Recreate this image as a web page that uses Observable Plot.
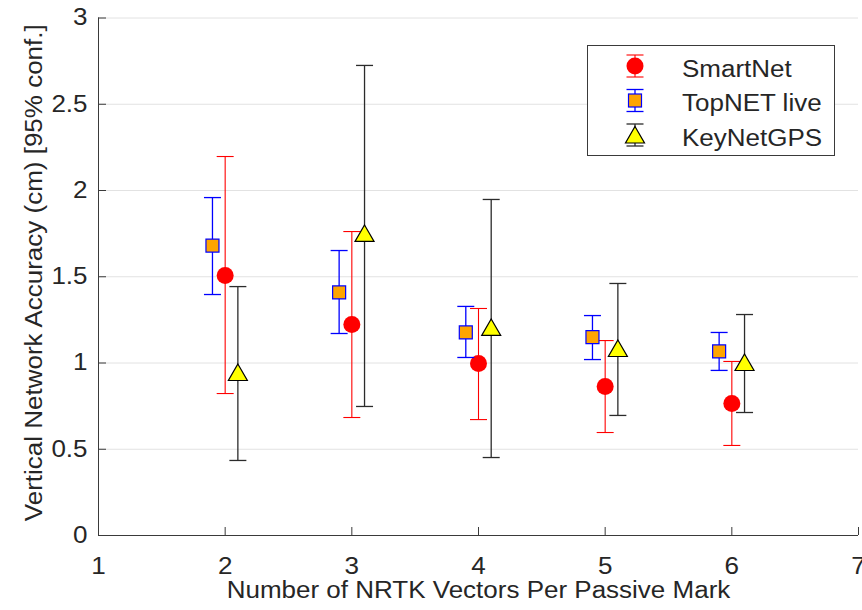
<!DOCTYPE html>
<html><head><meta charset="utf-8">
<script src="https://cdn.jsdelivr.net/npm/d3@7"></script>
<script src="https://cdn.jsdelivr.net/npm/@observablehq/plot@0.6"></script>
<style>
body{margin:0;background:#fff;}
#wrap{position:relative;width:862px;height:610px;overflow:hidden;font-family:"Liberation Sans",Arial,Helvetica,sans-serif;}
#legend{position:absolute;left:587px;top:45px;}
</style></head><body><div id="wrap"></div>
<script>
// ---- data ----
const xValues = [2, 3, 4, 5, 6];
const smartNetMean = [1.507, 1.223, 0.997, 0.864, 0.765];
const smartNetLow  = [0.823, 0.684, 0.672, 0.597, 0.522];
const smartNetHigh = [2.197, 1.762, 1.316, 1.130, 1.009];
const topNetMean = [1.681, 1.409, 1.177, 1.150, 1.067];
const topNetLow  = [1.397, 1.171, 1.032, 1.020, 0.957];
const topNetHigh = [1.959, 1.652, 1.328, 1.275, 1.177];
const keyNetMean = [0.945, 1.751, 1.206, 1.084, 1.003];
const keyNetLow  = [0.435, 0.748, 0.452, 0.696, 0.713];
const keyNetHigh = [1.443, 2.725, 1.948, 1.461, 1.281];
const seriesNames = ["SmartNet", "TopNET live", "KeyNetGPS"];
const xTicks = [1, 2, 3, 4, 5, 6, 7];
const xTickLabels = ["1", "2", "3", "4", "5", "6", "7"];
const yTicks = [0, 0.5, 1, 1.5, 2, 2.5, 3];
const yTickLabels = ["0", "0.5", "1", "1.5", "2", "2.5", "3"];
const xLabel = "Number of NRTK Vectors Per Passive Mark";
const yLabel = "Vertical Network Accuracy (cm) [95% conf.]";

// ---- layout / style ----
const W = 862, H = 610, mL = 98, mR = 4, mT = 17.5, mB = 75;
const innerW = W - mL - mR, innerH = H - mT - mB;
const axisColor = "#3a3a3a", textColor = "#262626";
const dodge = 12.7; // px offset between series

const makeTable = (mean, lo, hi) => xValues.map((x, i) => ({x, mean: mean[i], lo: lo[i], hi: hi[i]}));
const smartData = makeTable(smartNetMean, smartNetLow, smartNetHigh);
const topNetData = makeTable(topNetMean, topNetLow, topNetHigh);
const keyNetData = makeTable(keyNetMean, keyNetLow, keyNetHigh);

const capSym = {draw(ctx) { ctx.moveTo(-8.5, 0); ctx.lineTo(8.5, 0); }};
const squareSym = {draw(ctx) { ctx.rect(-6.5, -6.5, 13, 13); }};
const triSym = {draw(ctx) { ctx.moveTo(0, -8.5); ctx.lineTo(9.5, 8); ctx.lineTo(-9.5, 8); ctx.closePath(); }};

function errMarks(data, dx, stroke, sw) {
  return [
    Plot.ruleX(data, {x: "x", y1: "lo", y2: "hi", dx, stroke, strokeWidth: sw}),
    Plot.dot(data, {x: "x", y: "lo", dx, symbol: capSym, r: 5, fill: "none", stroke, strokeWidth: sw}),
    Plot.dot(data, {x: "x", y: "hi", dx, symbol: capSym, r: 5, fill: "none", stroke, strokeWidth: sw})
  ];
}

const chart = Plot.plot({
  width: W, height: H,
  marginLeft: mL, marginRight: mR, marginTop: mT, marginBottom: mB,
  style: {fontFamily: '"Liberation Sans", Arial, Helvetica, sans-serif', fontSize: "23px", color: textColor, background: "white"},
  x: {type: "linear", domain: [xTicks[0], xTicks[xTicks.length - 1]]},
  y: {type: "linear", domain: [yTicks[0], yTicks[yTicks.length - 1]]},
  marks: [
    Plot.ruleY(yTicks.slice(1), {stroke: "#e2e2e2", strokeWidth: 1}),
    Plot.ruleY(yTicks, {insetRight: innerW - 8, stroke: axisColor}),
    Plot.ruleX(xTicks, {insetTop: innerH - 8, stroke: axisColor}),
    Plot.ruleY([yTicks[0]], {stroke: axisColor}),
    Plot.ruleX([xTicks[0]], {stroke: axisColor}),
    Plot.axisX(xTicks, {tickSize: 0, tickPadding: 22, label: null, fill: textColor,
      tickFormat: d => xTickLabels[xTicks.indexOf(d)]}),
    Plot.axisY(yTicks, {tickSize: 0, tickPadding: 11, label: null, fill: textColor,
      tickFormat: d => yTickLabels[yTicks.indexOf(d)]}),
    // SmartNet
    ...errMarks(smartData, 0, "#ff0000", 1.1),
    Plot.dot(smartData, {x: "x", y: "mean", r: 8.5, fill: "#ff0000", stroke: "none"}),
    // TopNET live
    ...errMarks(topNetData, -dodge, "#0000ff", 1.3),
    Plot.dot(topNetData, {x: "x", y: "mean", dx: -dodge, symbol: squareSym, r: 5, fill: "#ffa500", stroke: "#0000ff", strokeWidth: 1.2}),
    // KeyNetGPS
    ...errMarks(keyNetData, dodge, "#2b2b2b", 1.3),
    Plot.dot(keyNetData, {x: "x", y: "mean", dx: dodge, symbol: triSym, r: 5, fill: "#ffff00", stroke: "#000000", strokeWidth: 1.2}),
    // axis titles
    Plot.text([xLabel], {text: d => d, frameAnchor: "bottom", textAnchor: "middle", dy: 46, lineAnchor: "top", fill: textColor, fontSize: 23}),
    Plot.text([yLabel], {text: d => d, frameAnchor: "left", textAnchor: "middle", dx: -64, dy: -4, rotate: -90, lineAnchor: "middle", fill: textColor, fontSize: 23})
  ]
});

const wrap = document.getElementById("wrap");
wrap.appendChild(chart);

// ---- legend ----
const legendStyles = [
  {name: seriesNames[0], stroke: "#ff0000", sw: 1.1, marker: "circle"},
  {name: seriesNames[1], stroke: "#0000ff", sw: 1.3, marker: "square"},
  {name: seriesNames[2], stroke: "#2b2b2b", sw: 1.3, marker: "triangle"}
];
const lg = d3.create("svg").attr("id", "legend").attr("width", 249).attr("height", 112)
  .style("font-family", '"Liberation Sans", Arial, Helvetica, sans-serif').style("font-size", "23px");
lg.append("rect").attr("x", 0.5).attr("y", 0.5).attr("width", 247).attr("height", 110)
  .attr("fill", "white").attr("stroke", "#3a3a3a").attr("stroke-width", 1);
const rowY = [21, 55.5, 90];
legendStyles.forEach((s, i) => {
  const g = lg.append("g").attr("transform", `translate(48,${rowY[i]})`);
  g.append("line").attr("y1", -11).attr("y2", 11).attr("stroke", s.stroke).attr("stroke-width", s.sw);
  g.append("line").attr("x1", -8.5).attr("x2", 8.5).attr("y1", -11).attr("y2", -11).attr("stroke", s.stroke).attr("stroke-width", s.sw);
  g.append("line").attr("x1", -8.5).attr("x2", 8.5).attr("y1", 11).attr("y2", 11).attr("stroke", s.stroke).attr("stroke-width", s.sw);
  if (s.marker === "circle") g.append("circle").attr("r", 8.5).attr("fill", "#ff0000");
  if (s.marker === "square") g.append("rect").attr("x", -6.5).attr("y", -6.5).attr("width", 13).attr("height", 13).attr("fill", "#ffa500").attr("stroke", "#0000ff").attr("stroke-width", 1.2);
  if (s.marker === "triangle") g.append("path").attr("d", "M0,-8.5L9.5,8L-9.5,8Z").attr("fill", "#ffff00").attr("stroke", "#000").attr("stroke-width", 1.2);
  lg.append("text").attr("x", 95).attr("y", rowY[i] + 10.5).attr("fill", textColor).text(s.name);
});
wrap.appendChild(lg.node());

// widen glyphs slightly to match the reference's wider face
wrap.querySelectorAll("text").forEach(t => {
  if (t.querySelector("tspan")) return;
  const L = t.getComputedTextLength();
  if (L > 0) { t.setAttribute("textLength", (L * 1.13).toFixed(1)); t.setAttribute("lengthAdjust", "spacingAndGlyphs"); }
});
</script></body></html>
